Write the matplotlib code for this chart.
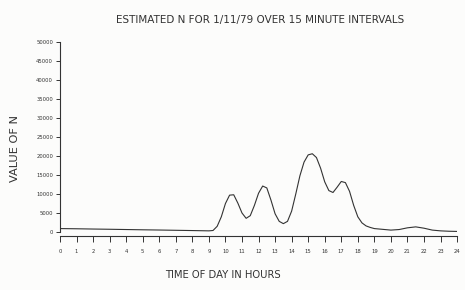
import matplotlib

matplotlib.use("Agg")
import matplotlib.pyplot as plt

# estimated N (hour of day, value)
hours = [0, 1, 2, 3, 4, 5, 6, 7, 8, 9,
         9.25, 9.5, 9.75, 10.0, 10.25, 10.5, 10.75, 11.0, 11.25, 11.5, 11.75,
         12.0, 12.25, 12.5, 12.75, 13.0, 13.25, 13.5, 13.75, 14.0, 14.25, 14.5,
         14.75, 15.0, 15.25, 15.5, 15.75, 16.0, 16.25, 16.5, 16.75, 17.0, 17.25,
         17.5, 17.75, 18.0, 18.25, 18.5, 18.75, 19.0, 19.5, 20.0, 20.5, 21.0,
         21.5, 22.0, 22.5, 23.0, 23.5, 24.0]
values = [900, 850, 780, 720, 650, 580, 520, 450, 380, 300,
          400, 1500, 4000, 7500, 9700, 9800, 7600, 5000, 3600, 4300, 7000,
          10200, 12100, 11600, 8400, 4800, 2800, 2200, 2800, 5500, 10000, 14800,
          18400, 20300, 20600, 19600, 16800, 13200, 10900, 10400, 11800, 13300, 13000,
          10700, 7000, 4000, 2400, 1600, 1200, 900, 700, 500, 650, 1100,
          1350, 1000, 500, 300, 200, 150]

x_ticks = list(range(0, 25))
y_ticks = [0, 5000, 10000, 15000, 20000, 25000, 30000, 35000, 40000, 45000, 50000]

ink = "#333333"
paper = "#fcfcfb"

fig = plt.figure(figsize=(4.65, 2.9), dpi=100, facecolor=paper)
ax = fig.add_axes([0.129, 0.2, 0.854, 0.655], facecolor=paper)

ax.plot(hours, values, color=ink, linewidth=0.8)

ax.set_xlim(0, 24)
ax.set_ylim(0, 50000)
ax.set_xticks(x_ticks)
ax.set_xticklabels([str(h) for h in x_ticks])
ax.set_yticks(y_ticks)
ax.set_yticklabels([str(v) for v in y_ticks])

for side in ("top", "right"):
    ax.spines[side].set_visible(False)
for side in ("left", "bottom"):
    ax.spines[side].set_color(ink)
    ax.spines[side].set_linewidth(0.8)
ax.spines["bottom"].set_position(("outward", 3))

ax.tick_params(axis="x", direction="out", length=4.5, width=0.7, colors=ink,
               labelsize=3.8, pad=5)
ax.tick_params(axis="y", direction="out", length=3, width=0.7, colors=ink,
               labelsize=3.8, pad=2)

fig.text(0.56, 0.93, "ESTIMATED N FOR 1/11/79 OVER 15 MINUTE INTERVALS",
         ha="center", va="center", fontsize=7.5, color=ink,
         family="DejaVu Sans")
ax.set_xlabel("TIME OF DAY IN HOURS", fontsize=7.2, color=ink)
ax.xaxis.set_label_coords(0.41, -0.2)
ax.set_ylabel("VALUE OF N", fontsize=8.2, color=ink)
ax.yaxis.set_label_coords(-0.1, 0.44)

fig.savefig("out.png", dpi=100, facecolor=paper)
